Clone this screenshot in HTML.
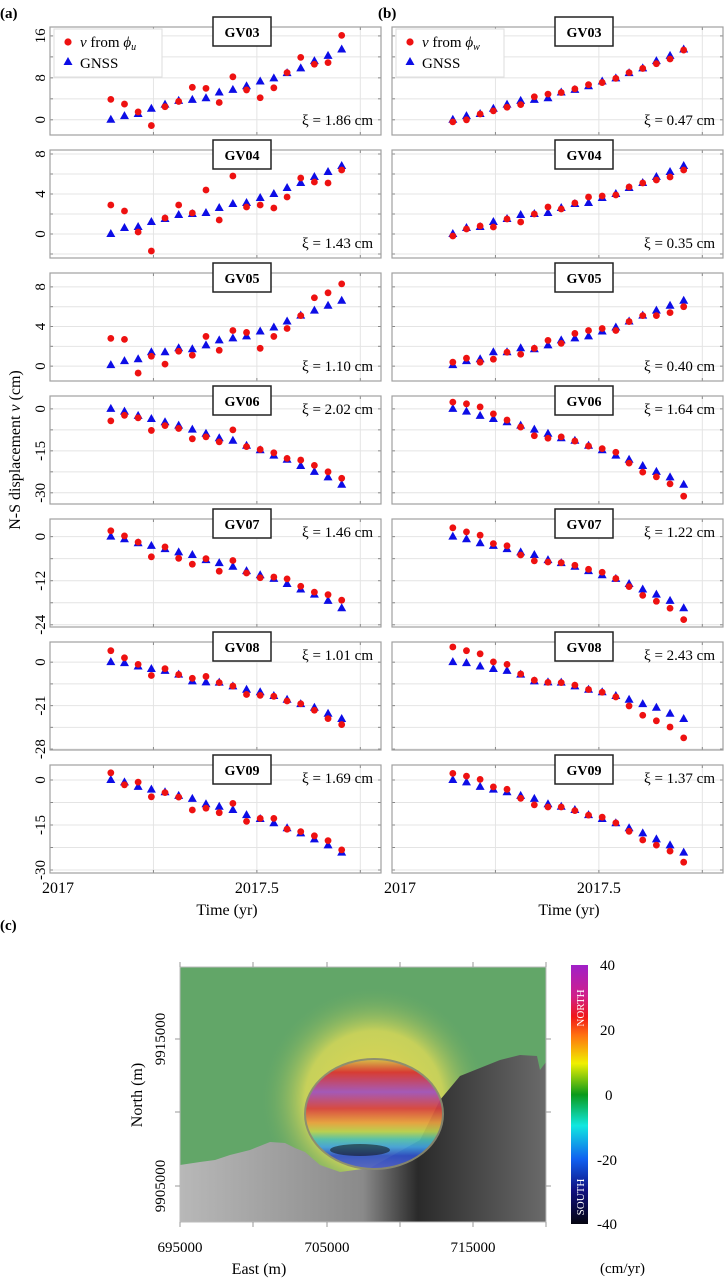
<!DOCTYPE html>
<html><head><meta charset="utf-8">
<style>
html,body{margin:0;padding:0;background:#fff;}
body{width:728px;height:1282px;overflow:hidden;font-family:"Liberation Serif",serif;}
svg text{font-family:"Liberation Serif",serif;}
</style></head>
<body>
<svg id="fig" width="728" height="1282" viewBox="0 0 728 1282" xmlns="http://www.w3.org/2000/svg">
<defs>
<linearGradient id="cbar" x1="0" y1="0" x2="0" y2="1">
<stop offset="0" stop-color="#a020c8"/><stop offset="0.12" stop-color="#d0208a"/>
<stop offset="0.2" stop-color="#f01818"/><stop offset="0.27" stop-color="#ff7010"/>
<stop offset="0.38" stop-color="#f0f000"/><stop offset="0.5" stop-color="#0a9a1a"/>
<stop offset="0.62" stop-color="#10e8e0"/><stop offset="0.75" stop-color="#1060f0"/>
<stop offset="0.87" stop-color="#101080"/><stop offset="1" stop-color="#050510"/>
</linearGradient>
<radialGradient id="halo" cx="374" cy="1100" r="115" gradientUnits="userSpaceOnUse">
<stop offset="0" stop-color="#e8d850"/><stop offset="0.6" stop-color="#d8d858" stop-opacity="0.85"/>
<stop offset="1" stop-color="#5fa466" stop-opacity="0"/>
</radialGradient>
<linearGradient id="gray" x1="0" y1="0" x2="1" y2="0">
<stop offset="0" stop-color="#b8b8b8"/><stop offset="0.5" stop-color="#8a8a8a"/>
<stop offset="0.65" stop-color="#2a2a2a"/><stop offset="1" stop-color="#6a6a6a"/>
</linearGradient>
<linearGradient id="crater" x1="0" y1="0" x2="0" y2="1">
<stop offset="0" stop-color="#d8c048"/><stop offset="0.12" stop-color="#d83030"/>
<stop offset="0.3" stop-color="#a050c0"/><stop offset="0.45" stop-color="#d84040"/>
<stop offset="0.58" stop-color="#e8a040"/><stop offset="0.66" stop-color="#b8d050"/>
<stop offset="0.73" stop-color="#50c0b0"/><stop offset="0.8" stop-color="#40a0e0"/>
<stop offset="0.88" stop-color="#3050c8"/><stop offset="1" stop-color="#5060c8"/>
</linearGradient>
</defs>
<g id="charts"></g>
<g id="map">
<text x="0" y="930" font-size="15" font-weight="bold">(c)</text>
<rect x="180" y="967" width="366" height="255" fill="#62a668"/>
<rect x="180" y="967" width="366" height="255" fill="url(#halo)"/>
<polygon fill="url(#gray)" points="180,1165 200,1162 215,1160 230,1155 250,1150 270,1142 285,1143 295,1148 305,1152 320,1165 340,1172 370,1168 420,1140 440,1100 460,1076 480,1068 500,1060 520,1055 537,1056 540,1070 546,1062 546,1222 180,1222"/>
<ellipse cx="374" cy="1114" rx="69" ry="55" fill="url(#crater)" stroke="#8a8a70" stroke-width="2" opacity="0.92"/>
<ellipse cx="360" cy="1150" rx="30" ry="6" fill="#111" opacity="0.55"/>
<rect x="180" y="967" width="366" height="255" fill="none" stroke="#bbb" stroke-width="1"/>
<g id="mapticks"></g>
<text x="180" y="1252" font-size="15" text-anchor="middle">695000</text>
<text x="327" y="1252" font-size="15" text-anchor="middle">705000</text>
<text x="473" y="1252" font-size="15" text-anchor="middle">715000</text>
<text x="259" y="1274" font-size="16" text-anchor="middle">East (m)</text>
<text transform="translate(165,1039) rotate(-90)" font-size="15" text-anchor="middle">9915000</text>
<text transform="translate(165,1186) rotate(-90)" font-size="15" text-anchor="middle">9905000</text>
<text transform="translate(142,1095) rotate(-90)" font-size="16" text-anchor="middle">North (m)</text>
<rect x="571" y="965" width="17" height="259" fill="url(#cbar)"/>
<text transform="translate(584,1008) rotate(-90)" font-size="11" fill="#fff" text-anchor="middle">NORTH</text>
<text transform="translate(584,1197) rotate(-90)" font-size="11" fill="#fff" text-anchor="middle">SOUTH</text>
<g font-size="15">
<text x="600" y="970">40</text><text x="600" y="1035">20</text><text x="605" y="1100">0</text><text x="597" y="1165">-20</text><text x="597" y="1229">-40</text>
</g>
<text x="600" y="1273" font-size="15">(cm/yr)</text>
</g>
</svg>
<script>
const stations = ['GV03','GV04','GV05','GV06','GV07','GV08','GV09'];
const times = [2017.147,2017.180,2017.213,2017.245,2017.278,2017.311,2017.344,2017.377,2017.409,2017.442,2017.475,2017.508,2017.541,2017.573,2017.606,2017.639,2017.672,2017.705];
const gnss03 = [0,0.7,1.1,2.1,2.9,3.6,3.8,4.1,5.2,5.7,6.4,7.3,7.9,8.9,9.8,11.2,12.2,13.4];
const gnss04 = [0,0.6,0.7,1.2,1.5,1.9,2.0,2.1,2.6,3.0,3.1,3.6,4.0,4.6,5.1,5.7,6.2,6.8];
const gnss05 = [0.1,0.5,0.7,1.4,1.4,1.8,1.7,2.1,2.6,2.8,3.0,3.5,3.9,4.5,5.1,5.6,6.1,6.6];
const gnss06 = [0,-1,-2.5,-3.6,-4.8,-6.0,-7.4,-8.9,-10.5,-11.4,-13.2,-14.8,-16.7,-18.2,-20.4,-22.5,-24.5,-27.1];
const gnss07 = [0,-0.7,-1.8,-2.5,-3.4,-4.3,-5.0,-6.4,-7.2,-8.2,-9.4,-10.5,-11.5,-12.9,-14.4,-15.8,-17.5,-19.5];
const gnss08 = [0,-0.3,-1.4,-2.2,-2.8,-4.0,-6.2,-6.5,-6.6,-7.8,-8.9,-9.7,-10.9,-12.1,-13.5,-14.7,-16.6,-18.3];
const gnss09 = [0,-0.8,-2.3,-3.2,-4.1,-5.3,-6.3,-8.1,-8.9,-10,-11.7,-13,-14.4,-16.1,-17.8,-19.8,-21.8,-24.2];
const phiU03 = [3.9,3.0,1.5,-1.1,2.5,3.5,6.2,6.0,3.3,8.2,5.7,4.2,6.1,9.0,11.9,10.6,10.9,16.1];
const phiU04 = [2.9,2.3,0.2,-1.7,1.6,2.9,2.1,4.4,1.4,5.8,2.7,2.9,2.6,3.7,5.6,5.2,5.1,6.4];
const phiU05 = [2.8,2.7,-0.7,1.0,0.2,1.5,1.1,3.0,1.6,3.6,3.4,1.8,3.0,3.8,5.1,6.9,7.4,8.3];
const phiU06 = [-4.3,-2.3,-3.2,-7.7,-6.0,-7.0,-10.7,-10.0,-11.8,-7.5,-13.5,-14.5,-15.7,-17.7,-18.3,-20.2,-22.5,-24.8];
const phiU07 = [1.6,0.2,-1.5,-5.5,-2.8,-5.9,-7.5,-6.0,-9.4,-6.5,-9.9,-11.2,-11.0,-11.5,-13.5,-15.1,-15.8,-17.3];
const phiU08 = [3.7,1.4,-0.7,-4.3,-2.1,-4.0,-5.2,-4.6,-6.6,-7.7,-10.4,-10.7,-11.0,-12.5,-13.4,-15.5,-18.2,-20.1];
const phiU09 = [2.4,-1.6,-0.7,-5.6,-4.2,-5.7,-10,-9.4,-10.9,-7.8,-13.8,-12.8,-12.8,-16.4,-17.2,-18.6,-20.2,-23.3];
const phiW03 = [-0.4,0,1.1,1.7,2.4,2.9,4.4,4.9,5.2,5.9,6.7,7.1,7.9,9.0,9.8,10.7,11.6,13.3];
const phiW04 = [-0.2,0.5,0.8,0.7,1.5,1.2,2.0,2.7,2.5,3.1,3.7,3.8,3.9,4.7,5.1,5.4,5.7,6.4];
const phiW05 = [0.4,0.8,0.4,0.7,1.4,1.2,1.8,2.6,2.3,3.3,3.6,3.8,3.6,4.5,5.1,5.1,5.4,6.0];
const phiW06 = [2.4,1.8,0.7,-1.8,-4.0,-6.5,-9.6,-10.5,-10.0,-11.5,-13.3,-14.2,-15.5,-19.4,-22.6,-24.3,-26.8,-31.2];
const phiW07 = [2.4,1.3,0.4,-1.9,-2.5,-5.0,-6.6,-6.9,-7.1,-7.8,-8.9,-9.7,-11.4,-13.6,-16.0,-17.6,-19.5,-22.6];
const phiW08 = [4.9,3.7,2.7,0.1,-0.7,-3.8,-5.8,-6.5,-6.6,-7.4,-8.8,-9.7,-11.2,-14.1,-17.1,-18.9,-20.9,-24.4];
const phiW09 = [2.2,1.3,0.2,-2.3,-3.1,-6.1,-8.3,-9,-9,-10.2,-11.7,-12.4,-14.3,-17.1,-20,-21.7,-23.7,-27.4];
const xiU = ['1.86','1.43','1.10','2.02','1.46','1.01','1.69'];
const xiW = ['0.47','0.35','0.40','1.64','1.22','2.43','1.37'];
const yMin = [-2.9,-2.4,-1.5,-34,-24.6,-28.3,-31];
const yMax = [17.7,8.4,9.4,4.6,4.8,6.5,5];
const gridStep = [4,2,2,7.5,6,7,7.5];
const tickVals = [[0,8,16],[0,4,8],[0,4,8],[0,-15,-30],[0,-12,-24],[0,-14,-28],[0,-15,-30]];
const tickLabels = [['0','8','16'],['0','4','8'],['0','4','8'],['0','-15','-30'],['0','-12','-24'],['0','-21','-28'],['0','-15','-30']];
const xTickVals = [2017,2017.5];
const xTickLabels = ['2017','2017.5'];
const xGrid = [2017.25,2017.5,2017.75];

const gnss = [gnss03,gnss04,gnss05,gnss06,gnss07,gnss08,gnss09];
const phiU = [phiU03,phiU04,phiU05,phiU06,phiU07,phiU08,phiU09];
const phiW = [phiW03,phiW04,phiW05,phiW06,phiW07,phiW08,phiW09];

const NS='http://www.w3.org/2000/svg';
const root=document.getElementById('charts');
function mk(tag,attrs,parent){const e=document.createElementNS(NS,tag);for(const k in attrs)e.setAttribute(k,attrs[k]);(parent||root).appendChild(e);return e;}
const PW=331, PH=108, PITCH=123, TOP0=27, X0=[50,392], XDOM=[2017,2017.8];
function xs(t,col){return X0[col]+(t-XDOM[0])/(XDOM[1]-XDOM[0])*PW;}
function ys(v,row){const T=TOP0+row*PITCH;return T+(yMax[row]-v)/(yMax[row]-yMin[row])*PH;}

let t=mk('text',{x:0,y:18,'font-size':15,'font-weight':'bold'});t.textContent='(a)';


t=mk('text',{x:378,y:18,'font-size':15,'font-weight':'bold'});t.textContent='(b)';


t=mk('text',{transform:'translate(20,450) rotate(-90)','font-size':16,'text-anchor':'middle'});
t.innerHTML='N-S displacement <tspan font-style="italic">ν</tspan> (cm)';



for(let col=0;col<2;col++){
  for(let r=0;r<7;r++){
    const T=TOP0+r*PITCH, L=X0[col];
    const g=mk('g',{});
    
    
    mk('rect',{x:L,y:T,width:PW,height:PH,fill:'#fff'},g);
    const s=gridStep[r];
    for(let v=Math.ceil(yMin[r]/s)*s; v<=yMax[r]; v+=s){
      const y=ys(v,r);
      mk('line',{x1:L,x2:L+PW,y1:y,y2:y,stroke:'#e4e4e4','stroke-width':1},g);
      mk('line',{x1:L,x2:L+3,y1:y,y2:y,stroke:'#888','stroke-width':1},g);
      mk('line',{x1:L+PW-3,x2:L+PW,y1:y,y2:y,stroke:'#888','stroke-width':1},g);
    }
    xGrid.forEach(tv=>{const x=xs(tv,col);
      mk('line',{x1:x,x2:x,y1:T,y2:T+PH,stroke:'#e4e4e4','stroke-width':1},g);
      mk('line',{x1:x,x2:x,y1:T,y2:T+3,stroke:'#888'},g);
      mk('line',{x1:x,x2:x,y1:T+PH-3,y2:T+PH,stroke:'#888'},g);});
    mk('rect',{x:L,y:T,width:PW,height:PH,fill:'none',stroke:'#a0a0a0','stroke-width':1.2},g);
    if(col===0){
      tickVals[r].forEach((v,i)=>{const y=ys(v,r);
        const tx=mk('text',{transform:`translate(45,${y}) rotate(-90)`,'font-size':15,'text-anchor':'middle'},g);
        tx.textContent=tickLabels[r][i];
        
        });
    }
    const red=col?phiW[r]:phiU[r];
    times.forEach((tm,i)=>{
      const x=xs(tm,col), yb=ys(gnss[r][i],r);
      const tri=mk('polygon',{points:`${x},${yb-5} ${x-4.5},${yb+3} ${x+4.5},${yb+3}`,fill:'#0d0de6'},g);
      
      
      const c=mk('circle',{cx:x,cy:ys(red[i],r),r:3.4,fill:'#ee1111'},g);
      
      
    });
    const cx=L+192;
    const lb=mk('g',{},g);
    
    
    mk('rect',{x:cx-29,y:T-10,width:58,height:29,fill:'#fff',stroke:'#222','stroke-width':1.5},lb);
    const st=mk('text',{x:cx,y:T+10,'font-size':14,'font-weight':'bold','text-anchor':'middle'},lb);
    st.textContent=stations[r];
    const xy = r<3 ? T+98 : T+18;
    const xt=mk('text',{x:L+PW-8,y:xy,'font-size':15,'text-anchor':'end'},g);
    xt.textContent='ξ = '+(col?xiW[r]:xiU[r])+' cm';
    
    
  }
  const L=X0[col];
  const lg=mk('g',{});
  
  
  mk('rect',{x:L+4,y:29,width:108,height:48,fill:'#fff',stroke:'#ddd'},lg);
  mk('circle',{cx:L+18,cy:42,r:3.6,fill:'#ee1111'},lg);
  const l1=mk('text',{x:L+30,y:47,'font-size':15},lg);
  l1.innerHTML='<tspan font-style="italic">ν</tspan> from <tspan font-style="italic">ϕ</tspan><tspan font-style="italic" font-size="10" dy="3">'+(col?'w':'u')+'</tspan>';
  mk('polygon',{points:`${L+18},${57} ${L+13.5},${65} ${L+22.5},${65}`,fill:'#0d0de6'},lg);
  const l2=mk('text',{x:L+30,y:68,'font-size':15},lg);l2.textContent='GNSS';
  xTickVals.forEach((v,i)=>{const tx=mk('text',{x:xs(v,col)+(i===0?8:0),y:893,'font-size':16,'text-anchor':'middle'});
    tx.textContent=xTickLabels[i];
    
    });
  const xt=mk('text',{x:X0[col]+177,y:915,'font-size':16,'text-anchor':'middle'});
  xt.textContent='Time (yr)';
  
  
}
const mt=document.getElementById('mapticks');
[180,253,327,400,473,546].forEach(x=>{mk('line',{x1:x,x2:x,y1:962,y2:967,stroke:'#999'},mt);mk('line',{x1:x,x2:x,y1:1222,y2:1227,stroke:'#999'},mt);});
[1039,1112,1186].forEach(y=>{mk('line',{x1:175,x2:180,y1:y,y2:y,stroke:'#999'},mt);mk('line',{x1:546,x2:551,y1:y,y2:y,stroke:'#999'},mt);});
</script>
</body></html>
